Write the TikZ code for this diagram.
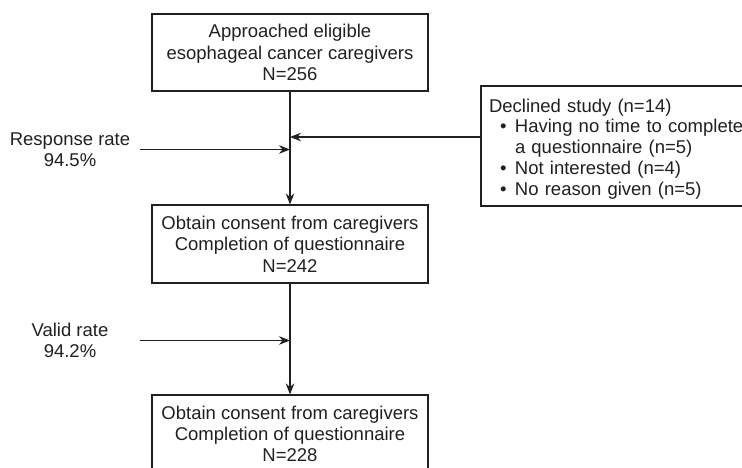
\documentclass[tikz,border=0pt]{standalone}
\usepackage{fontspec}
\setmainfont{Liberation Sans}
\usetikzlibrary{arrows.meta,calc}
\definecolor{ink}{HTML}{231F20}
\begin{document}
\begin{tikzpicture}[x=1pt,y=-1pt,
  font=\fontsize{18.5}{21.3}\selectfont,
  box/.style={draw=ink, line width=1.1pt, minimum width=276, minimum height=78,
    align=center, inner sep=0, text=ink},
  label/.style={text=ink, align=center, inner sep=0},
  arr/.style={draw=ink, line width=1.1pt, -{Stealth[length=11pt,width=8.5pt]}}]
\useasboundingbox (0,0) rectangle (742,467);
\clip (0,0) rectangle (742,467);
\node[box, minimum height=77] (top) at (290,52.5)
  {Approached eligible\\esophageal cancer caregivers\\N=256};
\node[box] (mid) at (290,244)
  {Obtain consent from caregivers\\Completion of questionnaire\\N=242};
\node[box] (bot) at (290,434)
  {Obtain consent from caregivers\\Completion of questionnaire\\N=228};
\node[draw=ink, line width=1.1pt, minimum width=279, minimum height=120,
  inner xsep=8, inner ysep=0, text width=263, align=left, text=ink,
  font=\fontsize{18.5}{20.8}\selectfont] (decl) at (620.5,146)
  {\rule{0pt}{19.25pt}Declined study (n=14)\\
   \makebox[26pt][l]{\hspace*{11pt}•}Having no time to complete\\
   \hspace*{26pt}a questionnaire (n=5)\\
   \makebox[26pt][l]{\hspace*{11pt}•}Not interested (n=4)\\
   \makebox[26pt][l]{\hspace*{11pt}•}No reason given (n=5)};
\node[label] (resp) at (70,149.5) {Response rate\\94.5\%};
\node[label] (valid) at (70,340.5) {Valid rate\\94.2\%};
\draw[arr] (top.south) -- (mid.north);
\draw[arr] (mid.south) -- (bot.north);
\draw[arr] ([yshift=9pt]decl.west) -- ([yshift=9pt]top.south |- decl.west);
\draw[arr] ([xshift=-11pt]top.west |- resp.east) -- (top.south |- resp.east);
\draw[arr] ([xshift=-11pt]top.west |- valid.east) -- (top.south |- valid.east);
\end{tikzpicture}
\end{document}
